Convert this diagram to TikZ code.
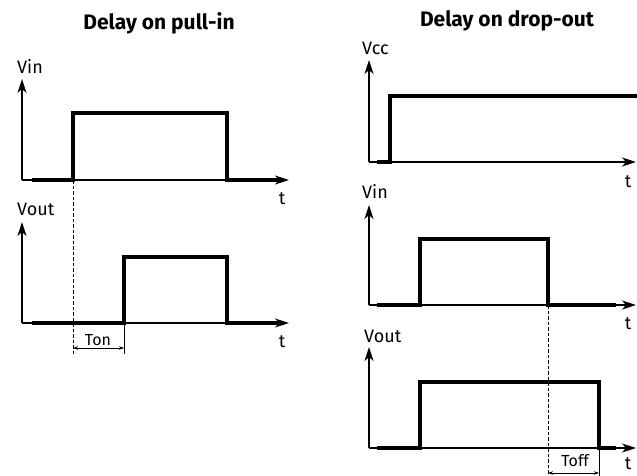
\documentclass[tikz,border=0pt]{standalone}
\usepackage{fontspec}
\setmainfont{Fira Sans}
\usetikzlibrary{arrows.meta}

\begin{document}
\begin{tikzpicture}[x=1pt, y=-1pt,
    axis/.style={line width=1.3pt, -{Stealth[length=14pt, width=9pt, inset=4pt]}},
    wave/.style={line width=3.4pt, line join=miter},
    guide/.style={line width=1pt, dashed, dash pattern=on 3.5pt off 2pt},
    tick/.style={line width=0.7pt},
    span/.style={line width=0.7pt, {Stealth[length=5pt, width=3.5pt]}-{Stealth[length=5pt, width=3.5pt]}},
    heading/.style={font=\fontsize{21}{23}\selectfont\bfseries},
    lbl/.style={font=\fontsize{18}{20}\selectfont, inner sep=0pt, anchor=base west},
    tlbl/.style={font=\fontsize{18}{20}\selectfont, inner sep=0pt},
    dlbl/.style={font=\fontsize{16}{18}\selectfont, inner sep=0pt}]
    \useasboundingbox (0,0) rectangle (637,476);

        % Titles
        \node[heading] (title1) at (159,23) {Delay on pull-in};
        \node[heading] (title2) at (507,21) {Delay on drop-out};

        % Axis points
        \coordinate (o1) at (22,180);  \coordinate (y1) at (22,79);  \coordinate (x1) at (289,180);
        \coordinate (o2) at (22,323);  \coordinate (y2) at (22,222); \coordinate (x2) at (289,323);
        \coordinate (o3) at (369,162); \coordinate (y3) at (369,60); \coordinate (x3) at (636,162);
        \coordinate (o4) at (369,305); \coordinate (y4) at (369,205); \coordinate (x4) at (636,305);
        \coordinate (o5) at (369,448); \coordinate (y5) at (369,347); \coordinate (x5) at (636,448);

        % Draw axes
        \foreach \i in {1,...,5} {
            \draw[axis] (o\i) -- (y\i);
            \draw[axis] (o\i) -- (x\i);
        }

        % Axis labels
        \node[lbl] (vin1) at (17,74) {Vin};
        \node[lbl] (vout1) at (17,215) {Vout};
        \node[lbl] (vcc) at (362,55) {Vcc};
        \node[lbl] (vin2) at (362,198) {Vin};
        \node[lbl] (vout2) at (364,342) {Vout};
        \node[tlbl] (t1) at (282,199) {t};
        \node[tlbl] (t2) at (282,342) {t};
        \node[tlbl] (t3) at (628,182) {t};
        \node[tlbl] (t4) at (628,324) {t};
        \node[tlbl] (t5) at (628,464) {t};

        % Draw waveforms
        \draw[wave] (32,180) -- (73,180) -- (73,113) -- (227,113) -- (227,180) -- (284,180);
        \draw[wave] (32,323) -- (124,323) -- (124,257) -- (227,257) -- (227,323) -- (284,323);
        \draw[wave] (377,162) -- (390,162) -- (390,96) -- (637,96);
        \draw[wave] (377,305) -- (420,305) -- (420,239) -- (548,239) -- (548,305) -- (616,305);
        \draw[wave] (377,448) -- (420,448) -- (420,382) -- (599,382) -- (599,448) -- (616,448);

        % Delay markers
        \coordinate (on0) at (73,354);  \coordinate (on1) at (124,354);
        \coordinate (off0) at (548,476); \coordinate (off1) at (599,476);
        \draw[guide] (73,180) -- (on0);
        \draw[tick] (124,323) -- (on1);
        \draw[span] (73,348) -- (124,348);
        \node[dlbl] (ton) at (98,340) {Ton};
        \draw[guide] (548,305) -- (off0);
        \draw[tick] (599,448) -- (off1);
        \draw[span] (548,473) -- (599,473);
        \node[dlbl] (toff) at (575,461) {Toff};
\end{tikzpicture}
\end{document}
